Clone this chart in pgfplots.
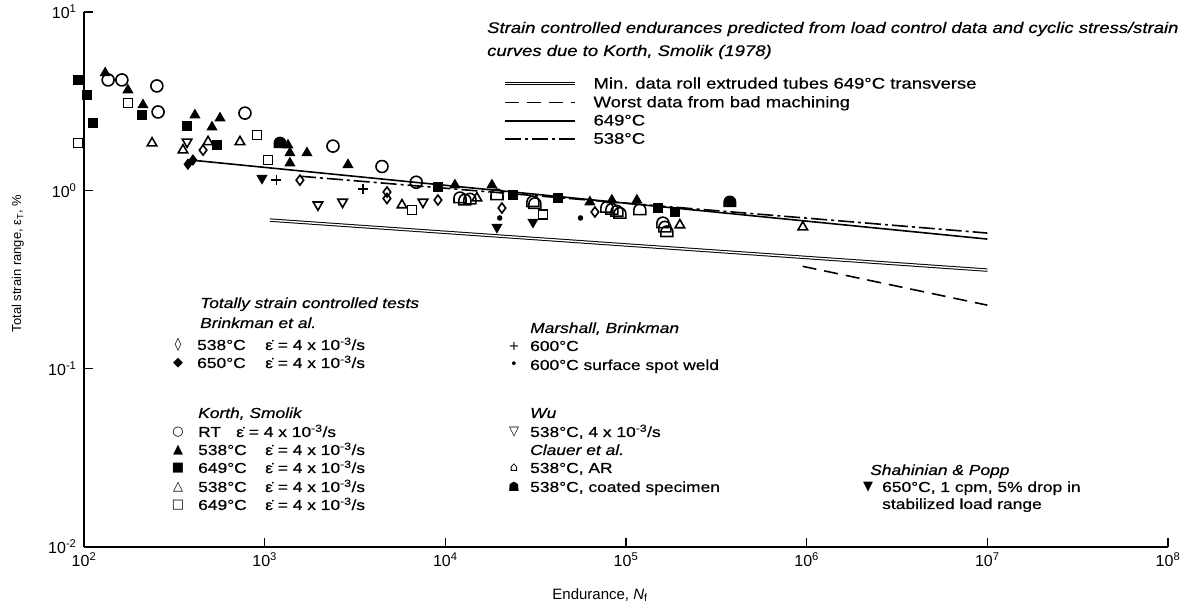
\documentclass[border=0pt]{standalone}
\usepackage{pgfplots}
\pgfplotsset{compat=1.18}
\usepackage{fontspec}
\setmainfont{Liberation Sans}
\newfontfamily\wide{Liberation Sans}[FakeStretch=1.2,FakeBold=0.5]
\newfontfamily\sym{DejaVu Sans}
\newcommand\blk{\wide\fontsize{14.5}{17}\selectfont}
\newcommand\ttl{\wide\fontsize{15.4}{20}\selectfont}
\newcommand\rate{ε̇ = 4 x 10\textsuperscript{-3}/s}

\pgfdeclareplotmark{dome}{%
  \pgfpathmoveto{\pgfqpoint{-\pgfplotmarksize}{-0.75\pgfplotmarksize}}%
  \pgfpathlineto{\pgfqpoint{\pgfplotmarksize}{-0.75\pgfplotmarksize}}%
  \pgfpathlineto{\pgfqpoint{\pgfplotmarksize}{0pt}}%
  \pgfpatharc{0}{180}{\pgfplotmarksize}%
  \pgfpathclose
  \pgfusepathqstroke}
\pgfdeclareplotmark{dome*}{%
  \pgfpathmoveto{\pgfqpoint{-\pgfplotmarksize}{-0.75\pgfplotmarksize}}%
  \pgfpathlineto{\pgfqpoint{\pgfplotmarksize}{-0.75\pgfplotmarksize}}%
  \pgfpathlineto{\pgfqpoint{\pgfplotmarksize}{0pt}}%
  \pgfpatharc{0}{180}{\pgfplotmarksize}%
  \pgfpathclose
  \pgfusepathqfillstroke}

\newcommand\T[3]{\node[anchor=base west,inner sep=0pt,font=\blk] at ({#1},{#2+5}) {#3};}
\newcommand\M[3]{\node[anchor=center,inner sep=0pt,font=\sym\fontsize{13}{13}\selectfont] at ({#1},{#2}) {#3};}
\newcommand\tmp[2]{\makebox[#1][l]{#2}}

\begin{document}
\begin{tikzpicture}
\begin{scope}[x=1pt,y=-1pt,shift={(-84pt,547pt)}]
\useasboundingbox (0,0) rectangle (1191,615);
\end{scope}
\begin{axis}[
  at={(0pt,0pt)}, anchor=south west,
  scale only axis, width=1084pt, height=535pt,
  xmode=log, ymode=log,
  xmin=1e2, xmax=1e8, ymin=1e-2, ymax=1e1,
  axis x line*=bottom, axis y line*=left,
  axis line style={line width=1.8pt},
  xtick={1e2,1e3,1e4,1e5,1e6,1e7,1e8},
  xticklabels={10\textsuperscript{2},10\textsuperscript{3},10\textsuperscript{4},10\textsuperscript{5},10\textsuperscript{6},10\textsuperscript{7},10\textsuperscript{8}},
  ytick={1e-2,1e-1,1e0,1e1},
  yticklabels={10\textsuperscript{-2},10\textsuperscript{-1},10\textsuperscript{0},10\textsuperscript{1}},
  xminorticks=false, yminorticks=false,
  major tick length=9pt,
  every tick/.style={black, line width=1.4pt},
  tick align=inside,
  xticklabel style={font=\fontsize{16}{16}\selectfont, yshift=-2pt},
  yticklabel style={font=\fontsize{16}{16}\selectfont, xshift=-4pt},
  xlabel={Endurance, \textit{N}\textsubscript{f}},
  xlabel style={font=\fontsize{15}{15}\selectfont, at={(axis description cs:0.476,-0.09)}, anchor=center},
  ylabel={Total strain range, ε\textsubscript{T}, \%},
  ylabel style={font=\fontsize{13}{13}\selectfont, at={(axis description cs:-0.061,0.53)}, anchor=center},
  clip=false,
  legend cell align=left,
  legend style={at={(axis description cs:0.3865,0.878)}, anchor=north west, draw=none, fill=none,
    inner sep=0pt, row sep=6pt, column sep=17pt, font=\ttl,
    nodes={inner sep=0pt}},
  legend image code/.code={\draw[#1] (0pt,0pt) -- (70pt,0pt);},
]
% lines
\addplot[black, line width=1pt, double=white, double distance=1.4pt] coordinates {(1069,0.681) (1e7,0.357)};
\addlegendentry{Min. data roll extruded tubes 649°C transverse}
\addplot[black, line width=1.6pt, dash pattern=on 14pt off 8pt] coordinates {(9.5e5,0.375) (1e7,0.227)};
\addlegendentry{Worst data from bad machining}
\addplot[black, line width=1.6pt] coordinates {(386,1.48) (1e7,0.533)};
\addlegendentry{649°C}
\addplot[black, line width=1.6pt, dash pattern=on 16pt off 4pt on 3pt off 4pt] coordinates {(1567,1.20) (1e7,0.576)};
\addlegendentry{538°C}

% Korth RT (open circle)
\addplot[only marks, mark=o, mark size=6pt, line width=1.6pt, forget plot] coordinates {
(136,4.16) (162,4.16) (253,3.85) (257,2.75) (778,2.71) (2388,1.77) (4460,1.36) (6900,1.11)};
% Korth 538 filled triangle
\addplot[only marks, mark=triangle*, mark size=5.5pt, line width=1pt, forget plot] coordinates {
(131,4.55) (175,3.65) (212,3.01) (411,2.64) (511,2.26) (566,2.54) (1346,1.79) (1380,1.62) (1380,1.42)
(1714,1.62) (2891,1.39) (11300,1.07) (18110,1.07) (63100,0.86) (83500,0.88) (114900,0.88)};
% Korth 649 filled square
\addplot[only marks, mark=square*, mark size=4.5pt, line width=1pt, forget plot] coordinates {
(92.6,4.16) (104,3.42) (112,2.38) (209,2.64) (372,2.30) (544,1.79) (9101,1.04) (23660,0.94)
(42010,0.905) (150200,0.796) (186500,0.756)};
% Korth 649 open square
\addplot[only marks, mark=square, mark size=4.5pt, line width=1.6pt, forget plot] coordinates {
(92.6,1.84) (175,3.09) (906,2.04) (1042,1.48) (6535,0.775) (34680,0.73)};
% Korth 538 open triangle
\addplot[only marks, mark=triangle, mark size=5.5pt, line width=1.6pt, forget plot] coordinates {
(238,1.84) (353,1.68) (486,1.87) (730,1.87) (5754,0.827) (14950,0.905) (198700,0.639) (952000,0.622)};
% Brinkman 538 open diamond
\addplot[only marks, mark=diamond, mark size=5pt, line width=1.6pt, forget plot] coordinates {
(456,1.68) (1567,1.14) (4754,0.978) (4754,0.90) (9101,0.882) (20570,0.796) (67300,0.756)};
% Brinkman 650 filled diamond
\addplot[only marks, mark=diamond*, mark size=5pt, line width=1pt, forget plot] coordinates {
(401,1.48) (376,1.40)};
% Marshall +
\addplot[only marks, mark=+, mark size=5pt, line width=1.6pt, forget plot] coordinates {
(1160,1.14) (3500,1.02)};
% Marshall spot weld
\addplot[only marks, mark=*, mark size=2.5pt, forget plot] coordinates {
(20000,0.70) (56000,0.70)};
% Wu open inverted triangle
\addplot[only marks, mark=triangle, mark size=5.5pt, line width=1.6pt, mark options={rotate=180}, forget plot] coordinates {
(372,1.87) (1972,0.83) (2700,0.86) (7519,0.86)};
% Shahinian filled inverted triangle
\addplot[only marks, mark=triangle*, mark size=5.5pt, line width=1pt, mark options={rotate=180}, forget plot] coordinates {
(966,1.17) (19310,0.622) (30540,0.664)};
% Clauer AR (open dome)
\addplot[only marks, mark=dome, mark size=6pt, line width=1.6pt, forget plot] coordinates {
(12050,0.905) (12830,0.88) (13680,0.89) (19310,0.94) (30540,0.86) (31330,0.84) (78400,0.80)
(83500,0.78) (89100,0.76) (92500,0.74) (119300,0.775) (160100,0.655) (164200,0.62) (168400,0.584)};
% Clauer coated (filled dome)
\addplot[only marks, mark=dome*, mark size=6pt, line width=1pt, forget plot] coordinates {
(375800,0.86) (1216,1.84)};
\end{axis}

\begin{scope}[x=1pt,y=-1pt,shift={(-84pt,547pt)}]
% title
\node[anchor=base west,inner sep=0pt,font=\ttl\itshape] at (487,33) {Strain controlled endurances predicted from load control data and cyclic stress/strain};
\node[anchor=base west,inner sep=0pt,font=\ttl\itshape] at (487,56) {curves due to Korth, Smolik (1978)};
% Brinkman block
\T{200}{303}{\itshape Totally strain controlled tests}
\T{200}{323}{\itshape Brinkman et al.}
\M{178}{345}{◊}\T{197}{345}{\tmp{68pt}{538°C}\rate}
\M{178}{363}{◆}\T{197}{363}{\tmp{68pt}{650°C}\rate}
% Marshall block
\T{530}{328}{\itshape Marshall, Brinkman}
\M{514}{346}{+}\T{530}{346}{600°C}
\M{514}{365}{•}\T{530}{365}{600°C surface spot weld}
% Korth block
\T{198}{413}{\itshape Korth, Smolik}
\M{178}{432}{○}\T{198}{432}{\tmp{38pt}{RT}\rate}
\M{178}{450}{▲}\T{198}{450}{\tmp{67pt}{538°C}\rate}
\M{178}{468}{■}\T{198}{468}{\tmp{67pt}{649°C}\rate}
\M{178}{487}{△}\T{198}{487}{\tmp{67pt}{538°C}\rate}
\M{178}{505}{□}\T{198}{505}{\tmp{67pt}{649°C}\rate}
% Wu block
\T{530}{413}{\itshape Wu}
\M{514}{432}{▽}\T{530}{432}{538°C, 4 x 10\textsuperscript{-3}/s}
% Clauer block
\T{530}{450}{\itshape Clauer et al.}
\M{514}{468}{⌂}\T{530}{468}{538°C, AR}
\M{514}{487}{☗}\T{530}{487}{538°C, coated specimen}
% Shahinian block
\T{870}{470}{\itshape Shahinian \& Popp}
\M{868}{487}{▼}\T{882}{487}{650°C, 1 cpm, 5\% drop in}
\T{882}{504}{stabilized load range}
\end{scope}
\end{tikzpicture}
\end{document}
